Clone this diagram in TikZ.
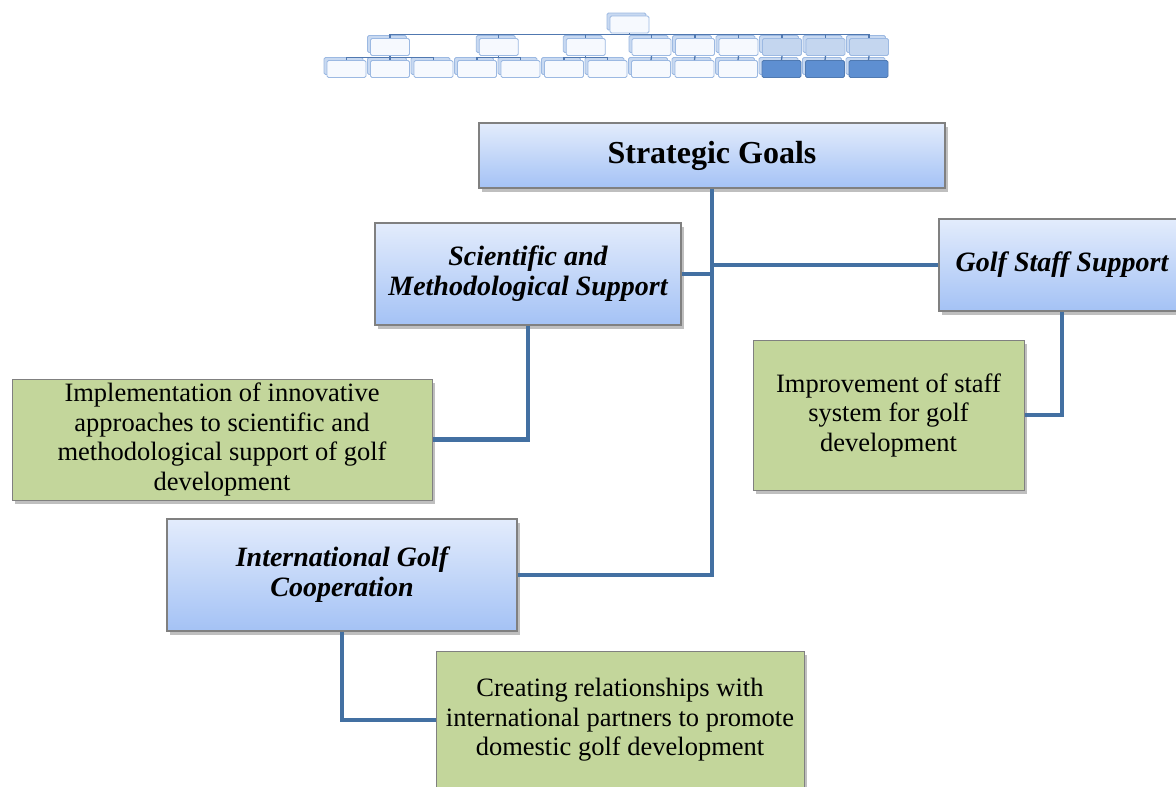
\documentclass[tikz,border=0pt]{standalone}
\usepackage{fontspec}
\setmainfont{Liberation Serif}
\usepackage{xcolor}
\usetikzlibrary{shadows,positioning}

\definecolor{goaltop}{HTML}{E3ECFC}
\definecolor{goalbot}{HTML}{A4C2F5}
\definecolor{taskgreen}{HTML}{C3D69B}
\definecolor{rimgray}{HTML}{808080}
\definecolor{linkblue}{HTML}{4370A2}
\definecolor{minirim}{HTML}{9CB9E2}
\definecolor{minifill}{HTML}{F6F9FE}
\definecolor{miniback}{HTML}{C8D9F1}
\definecolor{minilight}{HTML}{C4D6EF}
\definecolor{minideep}{HTML}{5E8FD1}
\definecolor{minilink}{HTML}{5078B0}

\tikzset{
  goalbox/.style={draw=rimgray, line width=1.2pt, top color=goaltop, bottom color=goalbot,
    drop shadow={shadow xshift=2.5pt, shadow yshift=-3.5pt, opacity=.5},
    align=center, inner sep=0pt},
  taskbox/.style={draw=rimgray, line width=1pt, fill=taskgreen,
    drop shadow={shadow xshift=2.5pt, shadow yshift=-3.5pt, opacity=.5},
    align=center, inner sep=0pt, font=\fontsize{26.5}{29.5}\selectfont},
  headfont/.style={font=\fontsize{28}{30}\selectfont\bfseries\itshape},
  link/.style={draw=linkblue, line width=4.5pt},
  minibox/.style={draw=minirim, line width=.8pt, fill=minifill, rounded corners=1.5pt,
    minimum width=39pt, minimum height=17pt, inner sep=0pt,
    general shadow={shadow xshift=-3pt, shadow yshift=3pt, fill=miniback, draw=minirim, line width=.8pt}},
  minilite/.style={minibox, fill=minilight},
  minidark/.style={minibox, fill=minideep, draw=minideep!85!black},
  minilink/.style={draw=minilink, line width=1.3pt}
}

\begin{document}
\begin{tikzpicture}[x=1pt, y=-1pt]
      \path[use as bounding box, fill=white] (0,0) rectangle (1176,787);
      \clip (0,0) rectangle (1176,787);

      % small overview chart
      \node[minibox, name=m0] at (629.5,24.5) {};
      \foreach \x/\s [count=\i] in {390/minibox,498.75/minibox,585.75/minibox,651.5/minibox,
          695/minibox,738.5/minibox,782/minilite,825.5/minilite,869/minilite}
         \node[\s, name=b\i] at (\x,47) {};
      \foreach \i in {0,...,12}
         {\ifnum\i<10 \def\s{minibox}\else \def\s{minidark}\fi
          \node[\s, name=c\i] at (346.5+43.5*\i,69) {};}

      \foreach \i in {1,...,9}
         \draw[minilink] (b\i.north) -- ++(0,-3.5) -| (m0.south);
      \foreach \p/\c in {1/0,1/1,1/2,2/3,2/4,3/5,3/6}
         \draw[minilink] (c\c.north) -- ++(0,-2.5) -| (b\p.south);
      \foreach \p [evaluate=\p as \c using int(\p+3)] in {4,...,9}
         \draw[minilink] (b\p.south) -- (c\c.north);

      % main chart
      \node[goalbox, name=goals, minimum width=466pt, minimum height=65pt,
            font=\fontsize{32}{38}\selectfont\bfseries] at (712,155.5) {Strategic Goals};
      \node[goalbox, headfont, name=sci, minimum width=306pt, minimum height=102pt]
            at (528,274) {Scientific and\\Methodological Support};
      \node[goalbox, headfont, name=staff, minimum width=246pt, minimum height=92pt]
            at (1062,265) {Golf Staff Support};
      \node[goalbox, headfont, name=intl, minimum width=350pt, minimum height=112pt]
            at (342,575) {International Golf\\Cooperation};

      \node[taskbox, name=impl, minimum width=420pt, minimum height=121pt] at (222,439.5)
            {Implementation of innovative\\approaches to scientific and\\methodological support of golf\\development};
      \node[taskbox, name=improv, minimum width=271pt, minimum height=150pt] at (888.5,415)
            {Improvement of staff\\system for golf\\development};
      \node[taskbox, name=creat, minimum width=368pt, minimum height=138pt] at (620,720)
            {Creating relationships with\\international partners to promote\\domestic golf development};

      \draw[link] (goals.south) -- (goals.south |- intl.east) -- (intl.east);
      \draw[link] (sci.east) -- (sci.east -| goals.south);
      \draw[link] (staff.west) -- (staff.west -| goals.south);
      \draw[link] (sci.south) |- (impl.east);
      \draw[link] (staff.south) |- (improv.east);
      \draw[link] (intl.south) |- (creat.west);
   \end{tikzpicture}
\end{document}
